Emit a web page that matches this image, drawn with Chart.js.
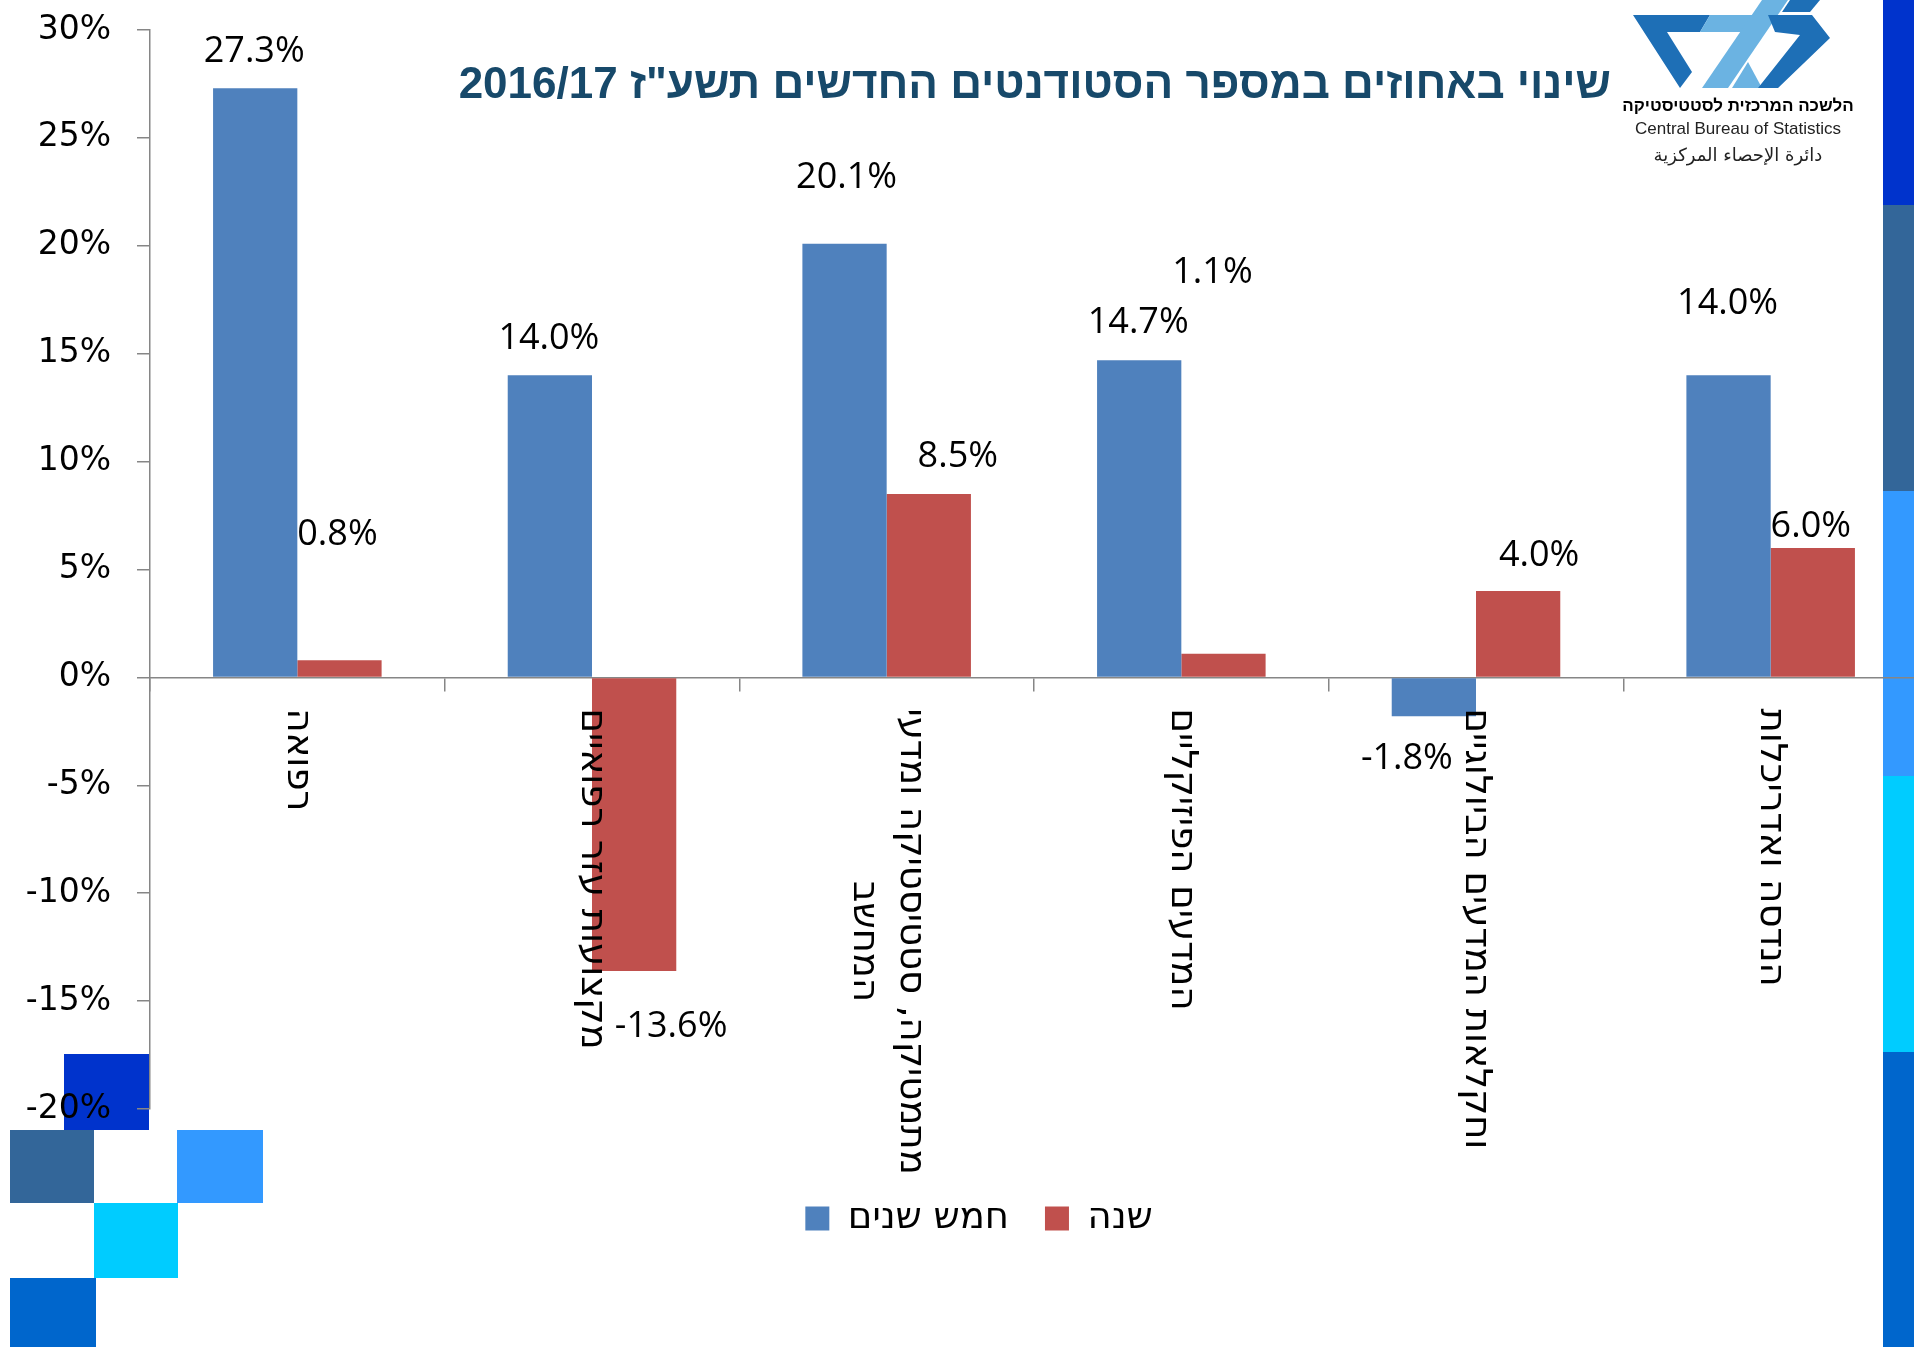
<!DOCTYPE html>
<html lang="he">
<head>
<meta charset="UTF-8">
<title>שינוי באחוזים במספר הסטודנטים החדשים</title>
<script src="https://cdnjs.cloudflare.com/ajax/libs/Chart.js/4.4.1/chart.umd.min.js"></script>
<style>
  html, body { margin: 0; padding: 0; background: #fff; overflow: hidden; width: 1914px; height: 1347px; }
  .deco { position: absolute; z-index: 1; }
  #chart { position: absolute; left: 0; top: 0; z-index: 2; }
  #title {
    position: absolute; left: 0; top: 58px; width: 1611px;
    text-align: right; direction: rtl; white-space: nowrap;
    font: bold 44px "Liberation Sans", Arial, sans-serif; color: #17496a; z-index: 3;
  }
  #logo { position: absolute; left: 1620px; top: 0; z-index: 3; }
</style>
</head>
<body>

<!-- decoration squares -->
<div class="deco" style="left:1883px;top:0;width:31px;height:205px;background:#0033cc"></div>
<div class="deco" style="left:1883px;top:205px;width:31px;height:286px;background:#336699"></div>
<div class="deco" style="left:1883px;top:491px;width:31px;height:285px;background:#3399ff"></div>
<div class="deco" style="left:1883px;top:776px;width:31px;height:276px;background:#00ccff"></div>
<div class="deco" style="left:1883px;top:1052px;width:31px;height:295px;background:#0066cc"></div>

<div class="deco" style="left:64px;top:1054px;width:85px;height:76px;background:#0033cc"></div>
<div class="deco" style="left:10px;top:1130px;width:84px;height:73px;background:#336699"></div>
<div class="deco" style="left:177px;top:1130px;width:86px;height:73px;background:#3399ff"></div>
<div class="deco" style="left:94px;top:1203px;width:84px;height:75px;background:#00ccff"></div>
<div class="deco" style="left:10px;top:1278px;width:86px;height:69px;background:#0066cc"></div>

<canvas id="chart" width="1920" height="1347"></canvas>

<div id="title">שינוי באחוזים במספר הסטודנטים החדשים תשע"ז 2016/17</div>

<svg id="logo" width="240" height="175" viewBox="1620 0 240 175">
  <polygon fill="#1e6fb6" points="1633,15 1710,15 1700,32 1667,32 1692,72 1680,88"/>
  <polygon fill="#6bb3e2" points="1710,15 1760,15 1750,32 1700,32"/>
  <polygon fill="#6bb3e2" points="1762,0 1788,0 1728,88 1702,88"/>
  <polygon fill="#6bb3e2" points="1732,88 1762,88 1748,62"/>
  <polygon fill="#1e6fb6" points="1768,15 1812,15 1830,38 1778,88 1758,88 1800,35 1775,32"/>
  <polygon fill="#1e6fb6" points="1790,0 1820,0 1810,12 1782,12"/>
  <text x="1738" y="111" text-anchor="middle" direction="rtl" font-family="Liberation Sans, Arial" font-weight="bold" font-size="17">הלשכה המרכזית לסטטיסטיקה</text>
  <text x="1738" y="134" text-anchor="middle" font-family="Liberation Sans, Arial" font-size="17" fill="#222">Central Bureau of Statistics</text>
  <text x="1738" y="161" text-anchor="middle" direction="rtl" font-family="DejaVu Sans" font-size="18" fill="#222">دائرة الإحصاء المركزية</text>
</svg>

<script>

// categories (multi-line labels are arrays of lines)
const categories = [
    ['רפואה'],
    ['מקצועות עזר רפואיים'],
    ['מתמטיקה, סטטיסטיקה ומדעי', 'המחשב'],
    ['המדעים הפיזיקליים'],
    ['וחקלאות המדעים הביולוגיים'],
    ['הנדסה ואדריכלות']
];
const seriesNames = ['חמש שנים', 'שנה'];
const fiveYearChange = [27.3, 14.0, 20.1, 14.7, -1.8, 14.0];
const oneYearChange = [0.8, -13.6, 8.5, 1.1, 4.0, 6.0];
const yMin = -20, yMax = 30, yStep = 5;

// where each value label sits, relative to the end of its bar (px)
const fiveYearLabelShift = [[-1, -37], [-1, -37], [2, -66], [-1, -37], [-27, 43], [-1, -72]];
const oneYearLabelShift = [[-2, -125], [37, 56], [29, -37], [-11, -381], [21, -35], [-2, -21]];

const axisGrey = '#868686';

Chart.defaults.font.family = '"DejaVu Sans", sans-serif';
Chart.defaults.color = '#000';

// percent labels over the bars
const valueLabels = {
    id: 'valueLabels',
    afterDatasetsDraw(chart) {
        const ctx = chart.ctx;
        ctx.save();
        ctx.font = '36px "Open Sans"';
        ctx.fillStyle = '#000';
        ctx.textAlign = 'center';
        ctx.textBaseline = 'middle';
        chart.data.datasets.forEach((ds, di) => {
            chart.getDatasetMeta(di).data.forEach((bar, i) => {
                const shift = ds.labelShift[i];
                ctx.fillText(ds.data[i].toFixed(1) + '%', bar.x + shift[0], bar.y + shift[1]);
            });
        });
        ctx.restore();
    }
};

// category names, turned a quarter clockwise, hanging under the zero line
const categoryLabels = {
    id: 'categoryLabels',
    afterDraw(chart) {
        const ctx = chart.ctx;
        const xs = chart.scales.x;
        const top = chart.scales.y.getPixelForValue(0) + 31;
        const lineGap = 47;
        ctx.save();
        ctx.font = '37px "DejaVu Sans"';
        ctx.fillStyle = '#000';
        ctx.direction = 'rtl';
        ctx.textAlign = 'center';
        ctx.textBaseline = 'middle';
        categories.forEach((lines, i) => {
            const maxW = Math.max(...lines.map(l => ctx.measureText(l).width));
            ctx.save();
            ctx.translate(xs.getPixelForValue(i), top);
            ctx.rotate(Math.PI / 2);
            lines.forEach((line, k) => {
                ctx.fillText(line, maxW / 2, (k - (lines.length - 1) / 2) * lineGap);
            });
            ctx.restore();
        });
        ctx.restore();
    }
};

// the legend sits a bit right of the canvas centre in the original
const legendNudge = {
    id: 'legendNudge',
    afterLayout(chart) {
        chart.legend.left += 20;
        chart.legend.right += 20;
    }
};

new Chart(document.getElementById('chart'), {
    type: 'bar',
    data: {
        labels: categories,
        datasets: [{
            label: seriesNames[0],
            data: fiveYearChange,
            backgroundColor: '#4f81bd',
            labelShift: fiveYearLabelShift
        }, {
            label: seriesNames[1],
            data: oneYearChange,
            backgroundColor: '#c0504d',
            labelShift: oneYearLabelShift
        }]
    },
    options: {
        responsive: false,
        animation: false,
        layout: { padding: { top: 30, right: 2, bottom: 100, left: 0 } },
        datasets: { bar: { barPercentage: 1, categoryPercentage: 0.572 } },
        scales: {
            x: {
                position: { y: 0 },
                grid: { offset: true, drawOnChartArea: false, tickLength: 13, color: axisGrey, lineWidth: 1.5 },
                border: { color: axisGrey, width: 1.5 },
                ticks: { display: false }
            },
            y: {
                min: yMin,
                max: yMax,
                afterFit(scale) {
                    scale.width = 150;
                    scale.paddingTop = 0;
                    scale.paddingBottom = 0;
                },
                grid: { drawOnChartArea: false, tickLength: 13, color: axisGrey, lineWidth: 1.5 },
                border: { color: axisGrey, width: 1.5 },
                ticks: {
                    stepSize: yStep,
                    padding: 26,
                    font: { size: 33 },
                    color: '#000',
                    callback: v => v + '%'
                }
            }
        },
        plugins: {
            tooltip: { enabled: false },
            legend: {
                position: 'bottom',
                title: { display: true, text: '', font: { size: 13, lineHeight: 1 }, padding: { top: 42, bottom: 0 } },
                labels: {
                    boxWidth: 24,
                    boxHeight: 24,
                    padding: 36,
                    font: { size: 37 },
                    color: '#000'
                }
            }
        }
    },
    plugins: [valueLabels, categoryLabels, legendNudge]
});

</script>
</body>
</html>
